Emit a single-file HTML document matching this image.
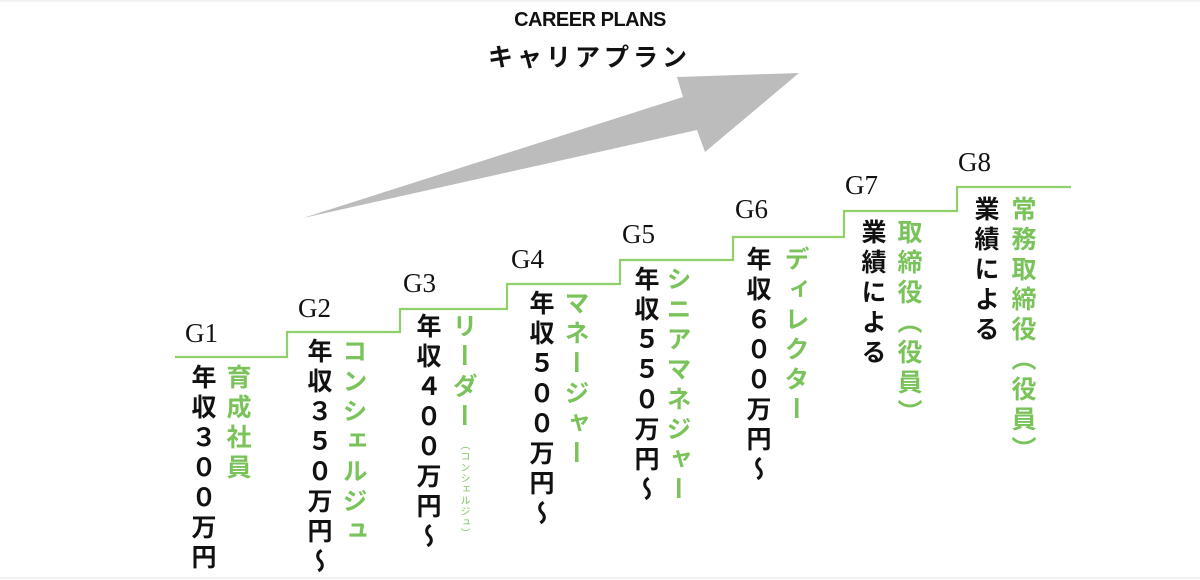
<!DOCTYPE html>
<html><head><meta charset="utf-8"><style>
body{margin:0;background:#fff;}
#c{position:relative;width:1200px;height:580px;overflow:hidden;background:#fff;}
.v{position:absolute;writing-mode:vertical-rl;text-orientation:upright;font-family:"Liberation Sans","Noto Sans CJK JP",sans-serif;font-weight:bold;font-size:25px;line-height:25px;width:25px;white-space:nowrap;color:#111;letter-spacing:5px;}
.g{color:#7ac35a;}
.lb{position:absolute;font-family:"Liberation Serif",serif;font-size:27px;color:#111;line-height:1;}
</style></head><body><div id="c">
<svg width="1200" height="580" style="position:absolute;left:0;top:0">
<line x1="0" y1="1" x2="1200" y2="1" stroke="#e6e6e6" stroke-width="1"/>
<line x1="0" y1="578" x2="1200" y2="578" stroke="#e6e6e6" stroke-width="1"/>
<polygon points="303,218 683,97 677,77 799,73 705,152 697,130" fill="#bcbcbc"/>
<polyline points="175,357 287,357 287,332 400,332 400,309 507,309 507,284 620,284 620,260 733,260 733,237 844,237 844,211 957,211 957,187 1071,187" fill="none" stroke="#8fd06a" stroke-width="2.2"/>
</svg>
<div style="position:absolute;left:495px;top:9px;width:190px;text-align:center;font-family:'Liberation Sans',sans-serif;font-weight:bold;font-size:20px;color:#111;letter-spacing:-0.5px">CAREER PLANS</div>
<div style="position:absolute;left:488px;top:38px;font-family:'Liberation Sans','Noto Sans CJK JP',sans-serif;font-weight:bold;font-size:25px;color:#111;letter-spacing:4px">キャリアプラン</div>

<div class="lb" style="left:185px;top:320px">G1</div>
<div class="lb" style="left:298px;top:295px">G2</div>
<div class="lb" style="left:403px;top:270px">G3</div>
<div class="lb" style="left:511px;top:246px">G4</div>
<div class="lb" style="left:622px;top:221px">G5</div>
<div class="lb" style="left:735px;top:196px">G6</div>
<div class="lb" style="left:845px;top:172px">G7</div>
<div class="lb" style="left:958px;top:149px">G8</div>

<div class="v" style="left:189px;top:364px">年収３００万円</div>
<div class="v g" style="left:224px;top:364px">育成社員</div>
<div class="v" style="left:305px;top:338px">年収３５０万円〜</div>
<div class="v g" style="left:340px;top:338px">コンシェルジュ</div>
<div class="v" style="left:414px;top:313px">年収４００万円〜</div>
<div class="v g" style="left:450px;top:313px">リーダー</div>
<div class="v g" style="left:458px;top:440px;font-size:10px;line-height:10px;width:10px;letter-spacing:1px;font-weight:normal">（コンシェルジュ）</div>
<div class="v" style="left:527px;top:290px">年収５００万円〜</div>
<div class="v g" style="left:562px;top:290px">マネージャー</div>
<div class="v" style="left:632px;top:266px">年収５５０万円〜</div>
<div class="v g" style="left:664px;top:266px">シニアマネジャー</div>
<div class="v" style="left:744px;top:246px">年収６００万円〜</div>
<div class="v g" style="left:782px;top:246px">ディレクター</div>
<div class="v" style="left:859px;top:219px">業績による</div>
<div class="v g" style="left:895px;top:219px">取締役（役員）</div>
<div class="v" style="left:972px;top:196px">業績による</div>
<div class="v g" style="left:1009px;top:196px">常務取締役（役員）</div>
</div></body></html>
